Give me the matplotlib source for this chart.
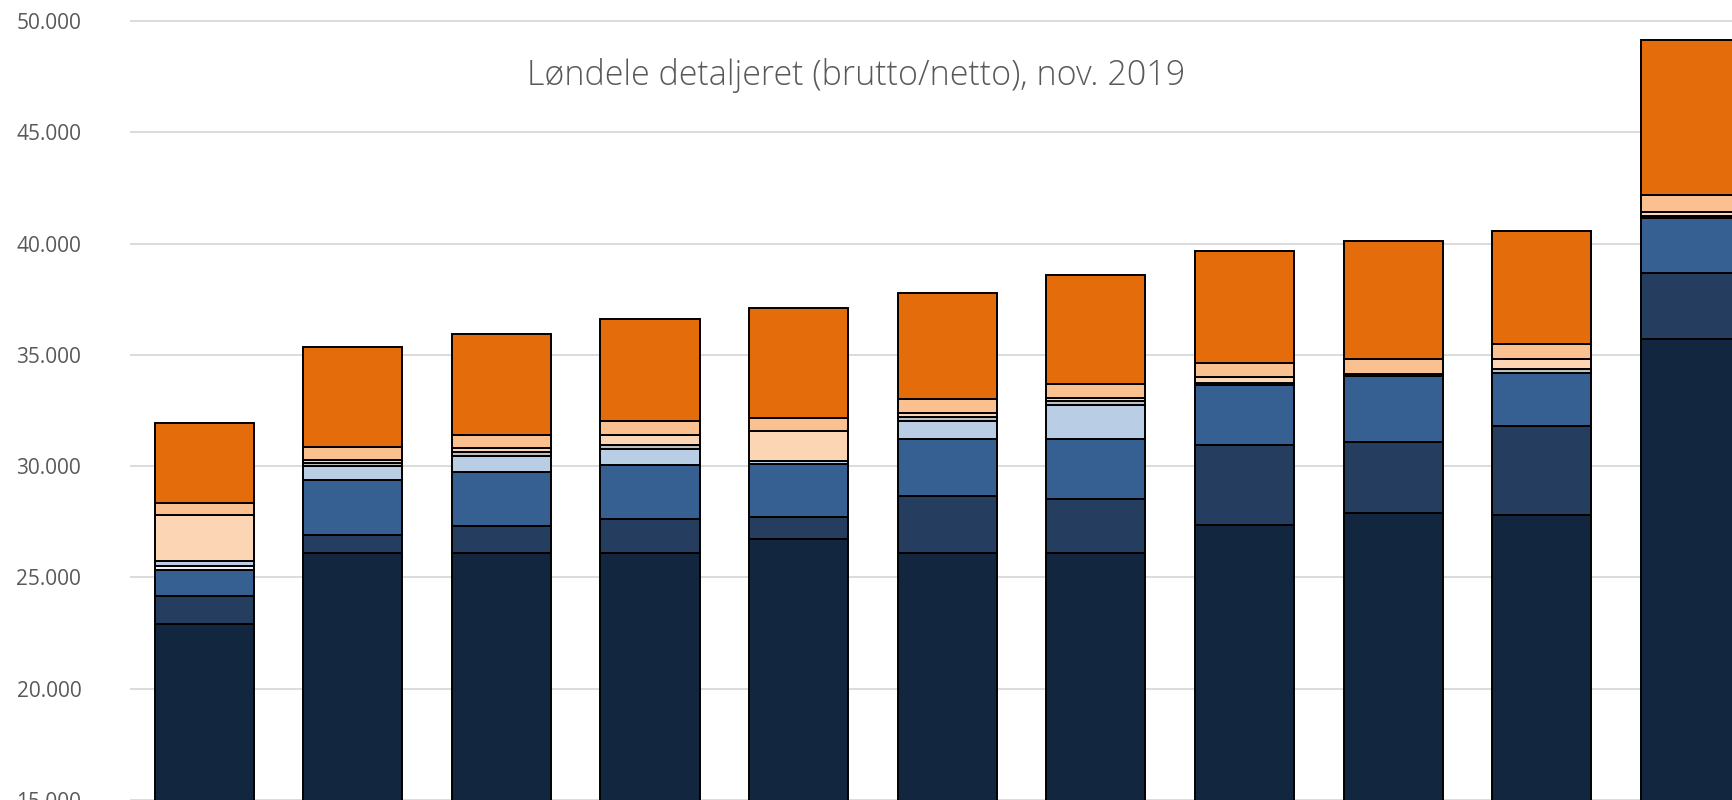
import matplotlib
matplotlib.use('Agg')
import matplotlib.pyplot as plt
import numpy as np
from matplotlib.ticker import FuncFormatter

plt.rcParams['font.family'] = ['Open Sans', 'DejaVu Sans']

# Bars (11 categories, no visible labels in the crop)
bars = np.arange(11)

# stacked segments, bottom to top
grundloen = [22921, 26095, 26095, 26095, 26724, 26095, 26095, 27340, 27893, 27821, 35734]
tillaeg = [1240, 796, 1200, 1528, 989, 2580, 2414, 3628, 3210, 3984, 2923]
pension = [1187, 2472, 2442, 2415, 2401, 2563, 2698, 2667, 2968, 2401, 2504]
hvid = [150, 0, 0, 0, 0, 0, 0, 0, 0, 0, 0]
lysblaa = [230, 643, 705, 719, 104, 791, 1528, 0, 0, 0, 0]
oevrigt = [0, 150, 180, 180, 0, 180, 180, 103, 90, 179, 92]
lys_fersken = [2068, 120, 211, 463, 1348, 180, 135, 270, 0, 419, 160]
fersken = [540, 570, 567, 616, 616, 616, 630, 647, 674, 674, 791]
orange = [3597, 4519, 4559, 4586, 4901, 4752, 4900, 5018, 5287, 5094, 6951]

series = [grundloen, tillaeg, pension, hvid, lysblaa, oevrigt, lys_fersken, fersken, orange]
colors = ['#12263F', '#253E5F', '#366092', '#EEF2F8', '#B9CDE5', '#BFBFBF', '#FCD5B5', '#FAC08F', '#E46C0A']

fig = plt.figure(figsize=(17.32, 8.0), dpi=100)
ax = fig.add_axes([0.075, 0.0, 0.925, 1.0])

bottom = np.zeros(len(bars))
for vals, col in zip(series, colors):
    vals = np.array(vals, dtype=float)
    lw = [1.4 if v > 0 else 0 for v in vals]
    ax.bar(bars, vals, bottom=bottom, width=0.667, color=col,
           edgecolor='black', linewidth=lw, zorder=3)
    bottom += vals

ax.set_xlim(-0.5, 10.28)
ax.set_ylim(15000, 15000 + 35000 / 0.97375)
ax.set_yticks(np.arange(15000, 50001, 5000))
ax.yaxis.set_major_formatter(FuncFormatter(lambda v, p: f'{int(v):,}'.replace(',', '.')))
ax.tick_params(axis='y', length=0, pad=35, labelsize=15, labelcolor='#595959')
ax.set_xticks([])
ax.grid(axis='y', color='#D9D9D9', linewidth=1.3, zorder=0)
for s in ax.spines.values():
    s.set_visible(False)

fig.text(0.494, 0.906, 'Løndele detaljeret (brutto/netto), nov. 2019',
         ha='center', va='center', fontsize=24.5, color='#595959', fontweight='light')

fig.savefig('out.png', dpi=100)
